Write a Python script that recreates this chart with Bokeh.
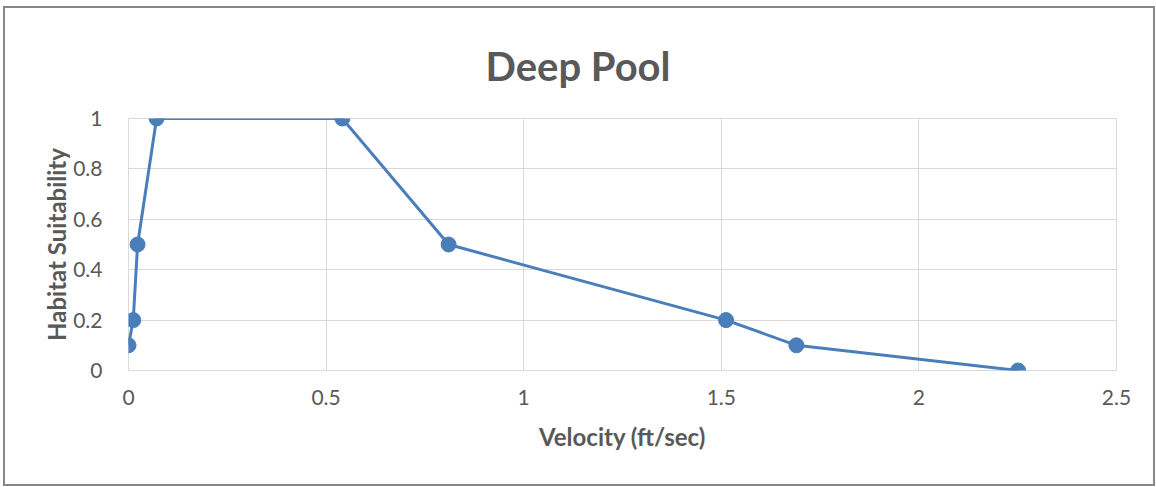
from bokeh.plotting import figure
from bokeh.models import FixedTicker, Range1d, Title
from bokeh.embed import file_html
from bokeh.resources import INLINE

# Data
velocity = [0.0, 0.012, 0.023, 0.071, 0.541, 0.81, 1.512, 1.69, 2.251]
suitability = [0.1, 0.2, 0.5, 1.0, 1.0, 0.5, 0.2, 0.1, 0.0]
x_ticks = [0, 0.5, 1, 1.5, 2, 2.5]
x_tick_labels = ["0", "0.5", "1", "1.5", "2", "2.5"]
y_ticks = [0, 0.2, 0.4, 0.6, 0.8, 1]
y_tick_labels = ["0", "0.2", "0.4", "0.6", "0.8", "1"]
title_text = "Deep Pool"
x_label = "Velocity (ft/sec)"
y_label = "Habitat Suitability"

FONT = "Lato"
GREY = "#595959"
BLUE = "#4a7ebb"

p = figure(width=1152, height=480, output_backend="svg", toolbar_location=None,
           x_range=Range1d(0, 2.5), y_range=Range1d(0, 1),
           min_border_left=123, min_border_right=41, min_border_top=110,
           min_border_bottom=118,
           styles={"border": "2px solid #878787", "margin-left": "3px", "margin-top": "6px"})
p.background_fill_color = "white"
p.border_fill_color = "white"
p.outline_line_color = "#d9d9d9"

p.xaxis.ticker = FixedTicker(ticks=x_ticks)
p.yaxis.ticker = FixedTicker(ticks=y_ticks)
p.xaxis.major_label_overrides = {t: l for t, l in zip(x_ticks, x_tick_labels)}
p.yaxis.major_label_overrides = {t: l for t, l in zip(y_ticks, y_tick_labels)}

for ax in (p.xaxis[0], p.yaxis[0]):
    ax.axis_line_color = None
    ax.major_tick_line_color = None
    ax.minor_tick_line_color = None
    ax.major_label_text_font = FONT
    ax.major_label_text_font_size = "21px"
    ax.major_label_text_color = GREY
    ax.axis_label_text_font = FONT
    ax.axis_label_text_font_size = "24px"
    ax.axis_label_text_font_style = "bold"
    ax.axis_label_text_color = GREY

p.xaxis.axis_label = x_label
p.yaxis.axis_label = y_label
p.xaxis.major_label_standoff = 13
p.xaxis.axis_label_standoff = 14
p.yaxis.major_label_standoff = 20
p.yaxis.axis_label_standoff = -1

p.xgrid.grid_line_color = "#d9d9d9"
p.ygrid.grid_line_color = "#d9d9d9"
p.xgrid.grid_line_width = 1
p.ygrid.grid_line_width = 1

p.line(velocity, suitability, line_color=BLUE, line_width=3)
p.scatter(velocity, suitability, size=15, fill_color=BLUE, line_color=BLUE)

title = Title(text=title_text, align="left", offset=357, standoff=57,
              text_font=FONT, text_font_size="40px", text_font_style="bold",
              text_color=GREY)
p.add_layout(title, "above")

open("out.html", "w").write(file_html(p, INLINE))
